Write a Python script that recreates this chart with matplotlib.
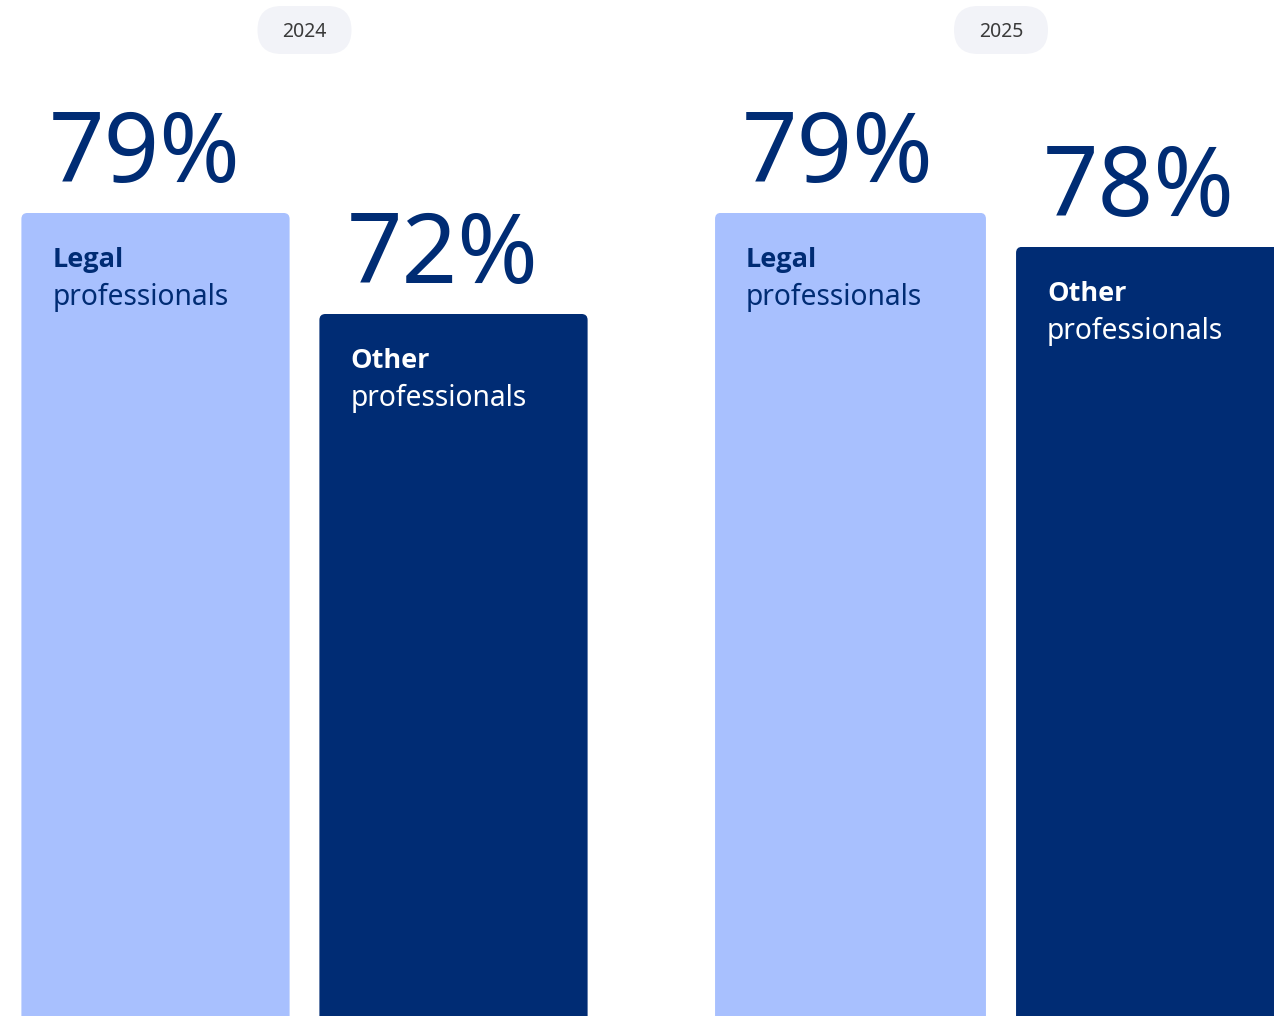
import matplotlib
matplotlib.use("Agg")
import matplotlib.pyplot as plt
from matplotlib.patches import FancyBboxPatch
from matplotlib.transforms import IdentityTransform

# Survey results: share of respondents, by year and group
years = ["2024", "2025"]
group_names = ["Legal", "Other"]
group_suffix = "professionals"
legal_pct = [79, 79]
other_pct = [72, 78]

LIGHT = "#A8C0FE"
NAVY = "#002C74"
PILL_BG = "#F2F3F8"
PILL_TEXT = "#3A3A3A"

plt.rcParams["font.family"] = ["Noto Sans", "DejaVu Sans"]
LABEL_FONT = ["Open Sans", "DejaVu Sans"]

W, H = 1274, 1017
DPI = 100
fig = plt.figure(figsize=(W / DPI, H / DPI), dpi=DPI)
fig.patch.set_facecolor("white")

# each year gets its own panel with its own value range
panel_px = [(6.5, 596), (700, 602)]
panel_ylim = [(23.35, 93.76), (55.38, 85.26)]
bar_w = 0.9
radius = 6

axes = []
for (left, width), ylim in zip(panel_px, panel_ylim):
    ax = fig.add_axes([left / W, 1 / H, width / W, 1016 / H])
    ax.set_xlim(-0.5, 1.5)
    ax.set_ylim(*ylim)
    ax.axis("off")
    ax.patch.set_alpha(0)
    axes.append(ax)

renderer = fig.canvas.get_renderer()
for ax, year, lv, ov, ylim in zip(axes, years, legal_pct, other_pct, panel_ylim):
    base = ylim[0]
    values = [lv, ov]
    colors = [LIGHT, NAVY]
    text_colors = [NAVY, "white"]
    bars = ax.bar(range(2), [v - base for v in values], bottom=base,
                  width=bar_w, color=colors, linewidth=0)
    for i, (bar, v) in enumerate(zip(bars, values)):
        # rounded top corners
        ext = bar.get_window_extent(renderer=renderer)
        clip = FancyBboxPatch((ext.x0, ext.y0 - 3 * radius), ext.width,
                              ext.height + 3 * radius,
                              boxstyle=f"round,pad=0,rounding_size={radius}",
                              transform=IdentityTransform())
        bar.set_clip_path(clip)

        x_left = i - bar_w / 2
        ax.annotate(f"{v}%", xy=(x_left, v), xytext=(27, 31),
                    textcoords="offset pixels", ha="left", va="baseline",
                    fontsize=70, color=NAVY)
        ax.annotate(group_names[i], xy=(x_left, v), xytext=(31, -54),
                    textcoords="offset pixels", ha="left", va="baseline",
                    fontsize=19.5, fontweight="bold", color=text_colors[i],
                    family=LABEL_FONT)
        ax.annotate(group_suffix, xy=(x_left, v), xytext=(31, -92),
                    textcoords="offset pixels", ha="left", va="baseline",
                    fontsize=20.3, color=text_colors[i])

    # year pill centred over the pair of bars
    cx, _ = ax.transData.transform((0.5, ylim[0]))
    cy = H - 30
    pw, ph = 94, 48
    pill = FancyBboxPatch((cx - pw / 2, cy - ph / 2), pw, ph,
                          boxstyle=f"round,pad=0,rounding_size={ph / 2}",
                          transform=IdentityTransform(), facecolor=PILL_BG,
                          edgecolor="none")
    fig.patches.append(pill)
    fig.text(cx, cy - 2, year, transform=IdentityTransform(), ha="center",
             va="center", fontsize=14, color=PILL_TEXT)

fig.savefig("out.png", dpi=DPI, facecolor="white")
